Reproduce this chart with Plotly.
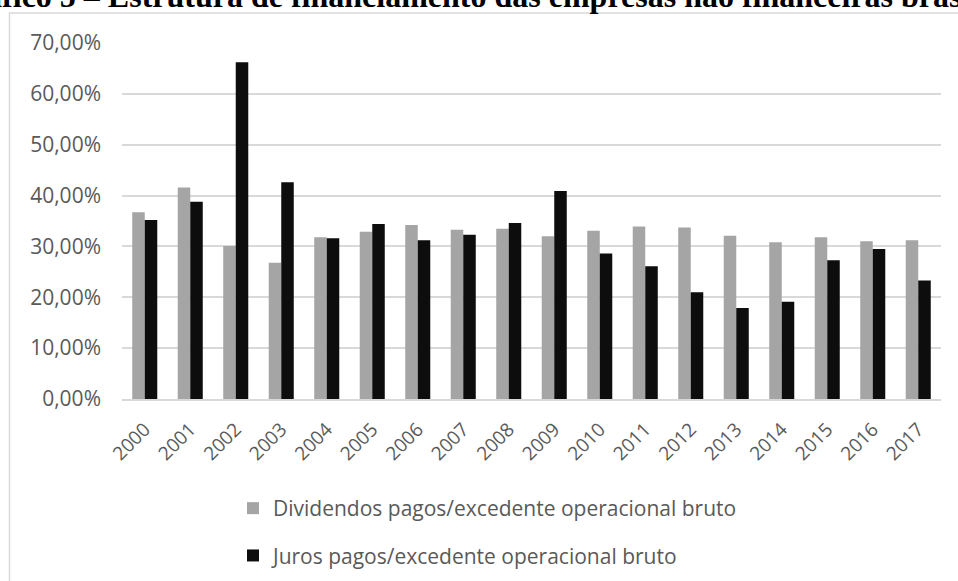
import plotly.graph_objects as go

years = [str(y) for y in range(2000, 2018)]
dividendos = [36.7, 41.6, 30.1, 26.8, 31.8, 32.9, 34.2, 33.3, 33.5, 32.0,
              33.1, 33.9, 33.7, 32.1, 30.8, 31.8, 31.0, 31.2]
juros = [35.2, 38.8, 66.2, 42.6, 31.6, 34.4, 31.2, 32.3, 34.6, 40.9,
         28.6, 26.1, 21.0, 17.9, 19.1, 27.3, 29.5, 23.3]
y_ticks = [0, 10, 20, 30, 40, 50, 60, 70]
y_ticktext = [f"{v},00%" for v in y_ticks]
title_text = "Gráfico 5 – Estrutura de financiamento das empresas não financeiras brasileiras"

W, H = 958, 581
L, R, T, B = 122, 17, 43, 182
pw, ph = W - L - R, H - T - B

def px_x(px):
    return (px - L) / pw

def px_y(py):
    return (H - B - py) / ph

FONT = "Open Sans"
fig = go.Figure()
fig.add_trace(go.Bar(x=years, y=dividendos, name="Dividendos pagos/excedente operacional bruto",
                     marker=dict(color="#A5A5A5", line=dict(width=0)), legendgroup="a"))
fig.add_trace(go.Bar(x=years, y=juros, name="Juros pagos/excedente operacional bruto",
                     marker=dict(color="#0D0D0D", line=dict(width=0)), legendgroup="b"))

fig.update_layout(
    width=W, height=H,
    margin=dict(l=L, r=R, t=T, b=B, autoexpand=False),
    paper_bgcolor="white", plot_bgcolor="white",
    barmode="group", bargap=0.45, bargroupgap=0,
    font=dict(family=FONT, size=21, color="#595959"),
    showlegend=True,
    legend=dict(orientation="v", x=px_x(233), xanchor="left", y=px_y(488), yanchor="top",
                font=dict(family=FONT, size=21, color="#595959"),
                tracegroupgap=17, traceorder="grouped", bgcolor="rgba(0,0,0,0)"),
    xaxis=dict(type="category", range=[-0.5, 17.5], tickangle=-45, showgrid=False,
               showline=True, linecolor="#D9D9D9", linewidth=1.5, ticks="",
               ticklabelstandoff=10,
               tickfont=dict(family=FONT, size=19, color="#595959")),
    yaxis=dict(range=[0, 70], tickmode="array", tickvals=y_ticks, ticktext=y_ticktext,
               showgrid=True, gridcolor="#D9D9D9", gridwidth=1.5, zeroline=False,
               ticks="", ticklabelstandoff=20, showline=False,
               tickfont=dict(family=FONT, size=21, color="#595959")),
    shapes=[dict(type="rect", xref="paper", yref="paper",
                 x0=px_x(9.5), x1=px_x(1100), y0=px_y(700), y1=px_y(13),
                 line=dict(color="#D9D9D9", width=1.5), fillcolor="rgba(0,0,0,0)", layer="below")],
    annotations=[dict(text="<b>" + title_text + "</b>", xref="paper", yref="paper",
                      x=px_x(-55), y=px_y(16), xanchor="left", yanchor="bottom",
                      showarrow=False,
                      font=dict(family="Liberation Serif", size=32, color="black"))],
)

fig.write_html("out.html")
